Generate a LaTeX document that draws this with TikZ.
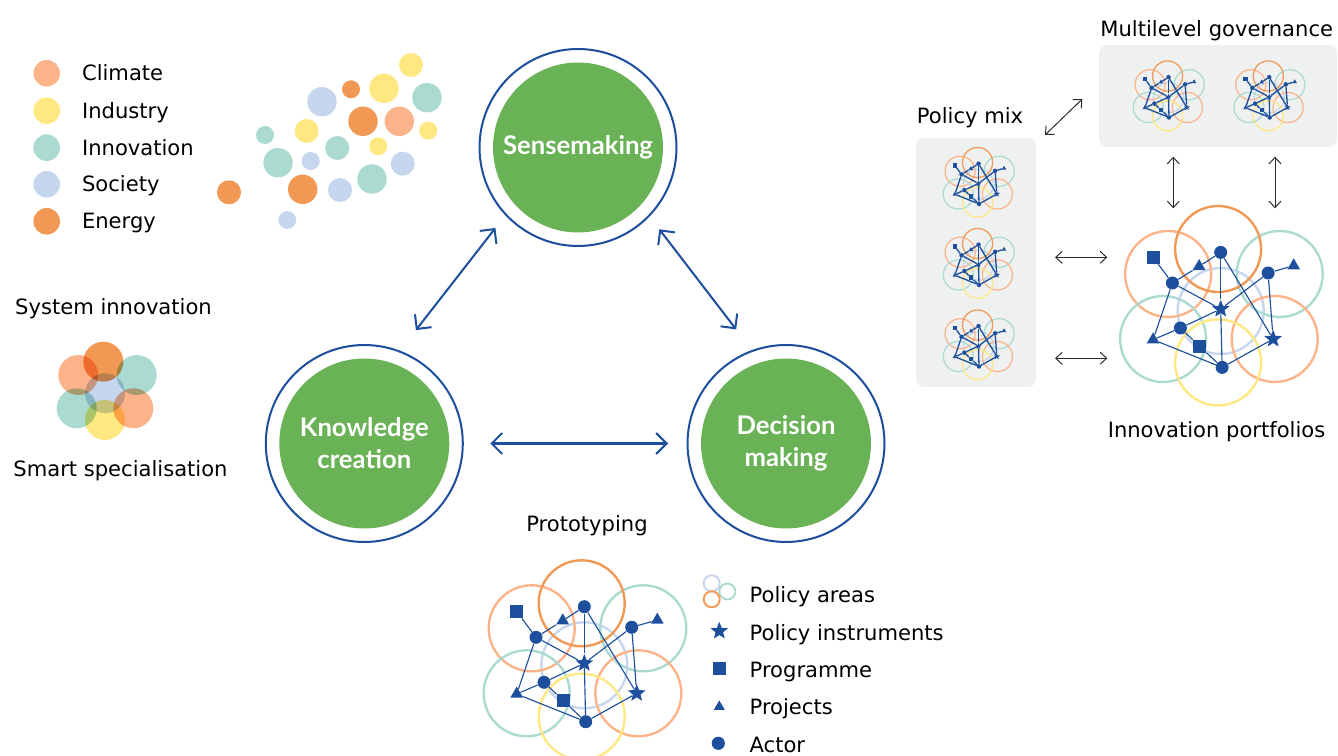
\documentclass[tikz,border=0pt]{standalone}
\usepackage{fontspec}
\setmainfont{DejaVu Sans}
\newfontfamily\headfont{Lato}
\usetikzlibrary{positioning,shapes.geometric,arrows.meta}

\definecolor{ecblue}{RGB}{30,79,157}
\definecolor{ecgreen}{RGB}{106,178,86}
\definecolor{clim}{RGB}{253,179,137}
\definecolor{indu}{RGB}{255,232,130}
\definecolor{inno}{RGB}{170,218,208}
\definecolor{soci}{RGB}{198,214,238}
\definecolor{ener}{RGB}{241,152,84}
\definecolor{panelgray}{RGB}{239,241,240}
\definecolor{arrowgray}{RGB}{40,40,40}

\tikzset{
	actor/.style = {circle, fill=ecblue, inner sep=0pt, minimum size=7.4pt},
	prog/.style = {rectangle, fill=ecblue, inner sep=0pt, minimum size=7.4pt},
	proj/.style = {regular polygon, regular polygon sides=3, fill=ecblue, inner sep=0pt, minimum size=8.4pt},
	instr/.style = {star, star points=5, star point ratio=2.3, fill=ecblue, inner sep=0pt, minimum size=10.5pt},
	pics/portfolio/.style n args={3}{code={
		\begin{scope}[scale=#1, transform shape]
			\foreach \c/\x/\y in {soci/0/2, clim/-52.6/-35, inno/59/-35, inno/-57.6/30, clim/54/30, indu/-2.6/53.4, ener/-2.6/-60}
				\draw[\c, line width=#2] (\x,\y) circle (43);
			\node[prog] (-p1) at (-67.6,-51.6) {};
			\node[actor] (-a1) at (0,-56.6) {};
			\node[proj] (-t1) at (-21.6,-42.6) {};
			\node[actor] (-a2) at (-48.3,-26) {};
			\node[actor] (-a3) at (47.4,-36) {};
			\node[proj] (-t2) at (73,-43.3) {};
			\node[instr] (-s1) at (0,0) {};
			\node[actor] (-a4) at (-40.3,19) {};
			\node[proj] (-t3) at (-67.6,30.7) {};
			\node[prog] (-p2) at (-21,37.4) {};
			\node[instr] (-s2) at (52.4,30) {};
			\node[actor] (-a5) at (1.4,58.4) {};
			\begin{scope}[ecblue, line width=#3]
				\draw (-p1) -- (-a2);
				\draw (-a2) -- (-t1) -- (-a1);
				\draw (-a2) -- (-s1);
				\draw (-a2) -- (-t3);
				\draw (-a1) -- (-s1);
				\draw (-a1) -- (-s2);
				\draw (-a3) -- (-s1);
				\draw (-a3) -- (-t2);
				\draw (-a3) -- (-s2);
				\draw (-t3) -- (-a4) -- (-s1);
				\draw (-a4) -- (-p2) -- (-a5);
				\draw (-t3) -- (-a5);
				\draw (-s1) -- (-a5);
				\draw (-s2) -- (-a5);
			\end{scope}
		\end{scope}
	}}
}

\begin{document}
\begin{tikzpicture}[x=0.02cm, y=-0.02cm, font=\fontsize{12}{14}\selectfont,
	ring/.style = {circle, draw=ecblue, line width=1.15pt, minimum size=3.94cm, inner sep=0pt},
	core/.style = {circle, fill=ecgreen, minimum size=3.4cm, inner sep=0pt, text=white, align=center,
		font=\headfont\bfseries\fontsize{14.6}{18.2}\selectfont},
	panel/.style = {rectangle, rounded corners=0.16cm, fill=panelgray, inner sep=0pt},
	legtext/.style = {anchor=base west, inner sep=0pt},
	bluearrow/.style = {<->, >={Straight Barb[length=2.1mm, width=4.2mm]}, draw=ecblue, line width=1.15pt},
	greyarrow/.style = {<->, >={Straight Barb[length=1.3mm, width=2.4mm]}, draw=arrowgray, line width=0.55pt}]
	\useasboundingbox (0,0) rectangle (1338,756);

	% policy area legend
	\fill[clim] (46.7,73.3) circle (13.3);
	\fill[indu] (46.7,110.7) circle (13.3);
	\fill[inno] (46.7,147.7) circle (13.3);
	\fill[soci] (46.7,184.3) circle (13.3);
	\fill[ener] (46.7,221.3) circle (13.3);
	\node[legtext] (lclim) at (81.7,81) {Climate};
	\node[legtext] (lindu) at (81.7,118.2) {Industry};
	\node[legtext] (linno) at (81.7,155.2) {Innovation};
	\node[legtext] (lsoci) at (81.7,192) {Society};
	\node[legtext] (lener) at (81.7,229) {Energy};

	% bubbles
	\foreach \c/\x/\y/\r in {indu/411/65/12, ener/351/89.3/9, soci/322/101.7/14.7, indu/384/88.3/14.7,
		inno/427/97.7/14.7, ener/363/121.3/14.7, clim/399.3/121.3/14.7, indu/428.3/130.7/9,
		inno/265/135/9, indu/306.7/131/12, inno/337.3/148/12, indu/378.3/146.3/9,
		inno/278/162.7/14.7, soci/310.7/161/9, soci/402.7/163.7/12, ener/302.7/189.3/14.7,
		soci/340/190/12, inno/372/179/14.7, ener/229/192.3/12, soci/287.3/220/9}
		\fill[\c] (\x,\y) circle (\r);

	% system innovation
	\node[anchor=base] (sysinn) at (113.5,315) {System innovation};
	\begin{scope}[blend group=multiply]
		\fill[soci] (105,393.3) circle (20);
		\fill[ener] (103.3,361.7) circle (20);
		\fill[clim] (78.3,375) circle (20);
		\fill[inno] (136.7,375) circle (20);
		\fill[inno] (76.7,408.3) circle (20);
		\fill[clim] (133.3,408.3) circle (20);
		\fill[indu] (105,420) circle (20);
	\end{scope}
	\node[anchor=base] (smart) at (120.5,477) {Smart specialisation};

	% cycle
	\node[ring] (sense) at (578,147.5) {};
	\node[core] (sensetxt) at (sense) {Sensemaking};
	\node[ring] (know) at (364.3,443.5) {};
	\node[core] (knowtxt) at (know) {Knowledge\\creation};
	\node[ring] (dec) at (786,443.5) {};
	\node[core] (dectxt) at (dec) {Decision\\making};

	\draw[bluearrow, shorten <=0.32cm, shorten >=0.52cm] (sense.223.4) -- (know.69.9);
	\draw[bluearrow, shorten <=0.32cm, shorten >=0.52cm] (sense.316.6) -- (dec.110.1);
	\draw[bluearrow, shorten <=0.53cm, shorten >=0.37cm] (know.0) -- (dec.180);

	% prototyping
	\node[anchor=base] (proto) at (587,531) {Prototyping};
	\pic (pt) at (584.3,663.3) {portfolio={1}{1.35pt}{0.65pt}};

	% glyph legend
	\draw[soci, line width=1.1pt] (711.7,583.3) circle (8);
	\draw[inno, line width=1.1pt] (727.3,591.5) circle (8);
	\draw[ener, line width=1.1pt] (711.7,599.3) circle (8);
	\node[instr, minimum size=10.5pt] (linstr) at (719.3,631) {};
	\node[prog, minimum size=7.5pt] (lprog) at (719.3,668.3) {};
	\node[proj, minimum size=7.2pt] (lproj) at (719.3,706.7) {};
	\node[actor, minimum size=7.5pt] (lactor) at (718.3,743.3) {};
	\node[legtext] (tareas) at (749.3,602) {Policy areas};
	\node[legtext] (tinstr) at (749.3,640) {Policy instruments};
	\node[legtext] (tprog) at (749.3,677) {Programme};
	\node[legtext] (tproj) at (749.3,714.7) {Projects};
	\node[legtext] (tactor) at (749.3,752) {Actor};

	% policy mix
	\node[anchor=base] (pmixtxt) at (970,124) {Policy mix};
	\node[panel, minimum width=2.4cm, minimum height=4.98cm] (pmix) at (976,262.5) {};
	\pic (pm1) at (978.5,183.5) {portfolio={0.35}{0.7pt}{0.75pt}};
	\pic (pm2) at (978.5,264.5) {portfolio={0.35}{0.7pt}{0.75pt}};
	\pic (pm3) at (978.5,346) {portfolio={0.35}{0.7pt}{0.75pt}};

	% multilevel governance
	\node[anchor=base] (mlgtxt) at (1216.7,36.7) {Multilevel governance};
	\node[panel, minimum width=4.76cm, minimum height=2.04cm] (mlg) at (1218,96) {};
	\pic (ml1) at (1168.5,97) {portfolio={0.35}{0.7pt}{0.75pt}};
	\pic (ml2) at (1269.2,97) {portfolio={0.35}{0.7pt}{0.75pt}};

	% innovation portfolios
	\pic (ip) at (1220.7,309) {portfolio={1}{1.35pt}{0.65pt}};
	\node[anchor=base] (iptxt) at (1216.5,438) {Innovation portfolios};

	\coordinate (d1) at (1045,135);
	\coordinate (d2) at (1082.3,99);
	\coordinate (v1a) at (1173.3,156.7);
	\coordinate (v1b) at (1173.3,208.3);
	\coordinate (v2a) at (1275,156.7);
	\coordinate (v2b) at (1275,208.3);
	\coordinate (h1a) at (1055,257.3);
	\coordinate (h1b) at (1107.3,257.3);
	\coordinate (h2a) at (1055,358.3);
	\coordinate (h2b) at (1107.3,358.3);
	\draw[greyarrow] (d1) -- (d2);
	\draw[greyarrow] (v1a) -- (v1b);
	\draw[greyarrow] (v2a) -- (v2b);
	\draw[greyarrow] (h1a) -- (h1b);
	\draw[greyarrow] (h2a) -- (h2b);
\end{tikzpicture}
\end{document}
